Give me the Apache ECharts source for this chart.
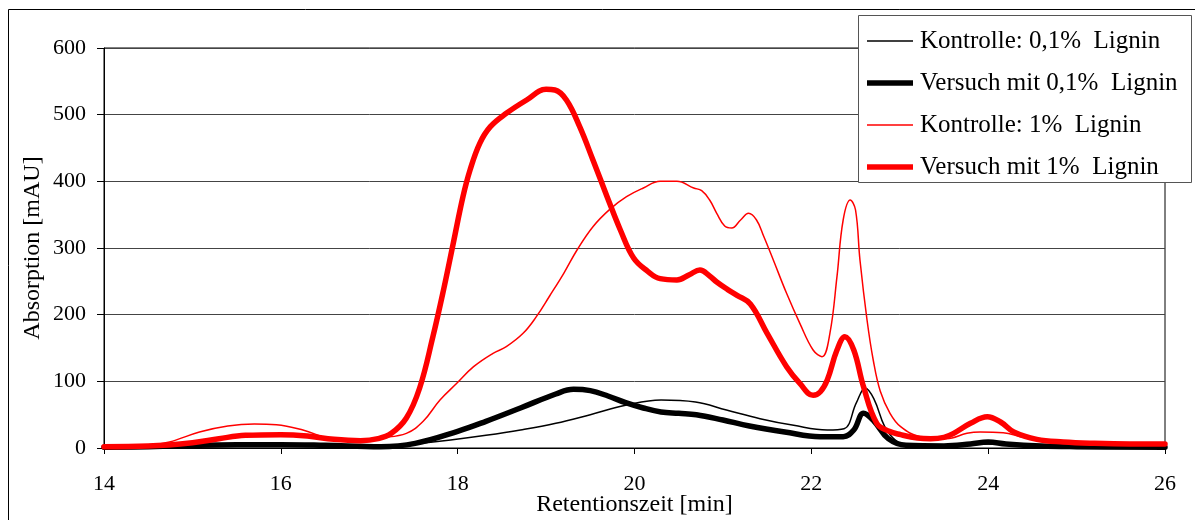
<!DOCTYPE html>
<html>
<head>
<meta charset="utf-8">
<title>Retentionszeit – Absorption</title>
<script src="https://cdn.jsdelivr.net/npm/echarts@6/dist/echarts.min.js"></script>
<style>
  html, body { margin: 0; padding: 0; background: #fff; overflow: hidden; }
  #chart { width: 1195px; height: 520px; }
</style>
</head>
<body>
<div id="chart"></div>
<script>
// Chromatogram traces: retention time [min] and absorption [mAU]
const timeKontrolle01 = [14.0, 14.5, 15.0, 15.5, 16.0, 16.5, 17.13, 17.5, 17.92, 18.32, 18.71, 19.11, 19.5, 19.9, 20.3, 20.69, 21.04, 21.42, 21.8, 22.18, 22.37, 22.51, 22.61, 22.71, 22.83, 22.95, 23.1, 23.5, 24.0, 24.5, 25.0, 26.0];
const absKontrolle01  = [1, 2, 3, 3, 3, 2, 2, 6, 12, 19, 27, 37, 50, 64, 72, 69, 57, 44, 34, 27, 29, 68, 90, 73, 32, 12, 4, 3, 6, 3, 2, 1];

const timeVersuch01 = [14.0, 14.5, 15.0, 15.5, 16.0, 16.5, 17.13, 17.52, 18.0, 18.32, 18.71, 19.11, 19.31, 19.5, 19.7, 19.9, 20.1, 20.3, 20.5, 20.7, 21.0, 21.3, 21.7, 22.1, 22.36, 22.48, 22.59, 22.71, 22.87, 23.07, 23.5, 23.8, 24.0, 24.2, 24.6, 25.0, 26.0];
const absVersuch01  = [1, 2, 4, 5, 5, 4, 2, 7, 25, 40, 60, 81, 88, 86, 78, 68, 60, 54, 52, 50, 42, 33, 24, 17, 17, 27, 52, 40, 14, 4, 3, 6, 9, 6, 3, 2, 1];

const timeKontrolle1 = [14.0, 14.5, 14.74, 15.08, 15.4, 15.7, 15.95, 16.25, 16.55, 16.86, 17.12, 17.42, 17.61, 17.8, 17.99, 18.18, 18.4, 18.55, 18.74, 18.89, 19.04, 19.2, 19.35, 19.53, 19.72, 19.91, 20.1, 20.29, 20.48, 20.67, 20.76, 20.85, 20.93, 21.02, 21.1, 21.2, 21.29, 21.38, 21.46, 21.57, 21.72, 21.87, 22.02, 22.12, 22.21, 22.29, 22.36, 22.44, 22.5, 22.55, 22.63, 22.7, 22.78, 22.89, 23.01, 23.23, 23.53, 23.76, 23.91, 24.17, 24.4, 24.67, 25.04, 25.5, 26.0];
const absKontrolle1  = [2, 4, 9, 24, 33, 36, 35, 27, 14, 10, 15, 22, 40, 72, 97, 122, 142, 152, 172, 197, 228, 262, 297, 332, 358, 377, 390, 400, 400, 390, 386, 372, 352, 333, 330, 342, 352, 342, 318, 282, 232, 187, 147, 137, 172, 257, 342, 372, 357, 282, 192, 132, 85, 52, 32, 17, 14, 22, 24, 23, 16, 12, 8, 7, 6];

const timeVersuch1 = [14.0, 14.5, 15.0, 15.3, 15.6, 16.0, 16.3, 16.6, 16.9, 17.1, 17.25, 17.42, 17.57, 17.72, 17.84, 17.95, 18.06, 18.14, 18.25, 18.37, 18.55, 18.78, 19.0, 19.1, 19.23, 19.38, 19.53, 19.69, 19.84, 19.99, 20.15, 20.29, 20.48, 20.62, 20.74, 20.85, 20.93, 21.05, 21.16, 21.31, 21.5, 21.72, 21.87, 22.02, 22.1, 22.18, 22.29, 22.38, 22.48, 22.59, 22.74, 22.88, 23.01, 23.2, 23.35, 23.5, 23.61, 23.8, 23.99, 24.14, 24.29, 24.55, 24.85, 25.19, 25.6, 26.0];
const absVersuch1  = [2, 3, 8, 14, 19, 20, 18, 13, 11, 14, 22, 45, 90, 167, 237, 307, 377, 417, 457, 482, 502, 522, 538, 537, 522, 482, 432, 377, 327, 285, 265, 254, 252, 260, 267, 258, 249, 238, 229, 216, 172, 122, 97, 79, 84, 102, 147, 167, 147, 92, 37, 25, 20, 15, 14, 16, 22, 37, 47, 39, 24, 13, 9, 7, 6, 6];

const seriesNames = ['Kontrolle: 0,1%  Lignin', 'Versuch mit 0,1%  Lignin', 'Kontrolle: 1%  Lignin', 'Versuch mit 1%  Lignin'];
const xTicks = { min: 14, max: 26, step: 2 };
const yTicks = { min: 0, max: 600, step: 100 };

const FONT = '"Liberation Serif", "Times New Roman", serif';
const THIN = 1.5;
const THICK = 5.5;

// legend keys: a flat bar as wide as the key, as thick as the trace
function keyIcon(thickness) {
  return 'path://M0,0h46v' + thickness + 'h-46z';
}

function pairs(times, values) {
  return times.map((t, i) => [t, values[i]]);
}

function trace(name, times, values, color, width) {
  return {
    name: name,
    type: 'line',
    data: pairs(times, values),
    smooth: 0.4,
    symbol: 'none',
    lineStyle: { color: color, width: width, join: 'round', cap: 'round' },
    itemStyle: { color: color },
    emphasis: { disabled: true }
  };
}

const chart = echarts.init(document.getElementById('chart'), null, { renderer: 'canvas', width: 1195, height: 520 });

chart.setOption({
  animation: false,
  backgroundColor: '#fff',
  textStyle: { fontFamily: FONT },
  grid: {
    left: 104, right: 30, top: 48, bottom: 72,
    outerBoundsMode: 'none',
    containLabel: false,
    show: true, borderColor: '#000', borderWidth: 1, backgroundColor: 'transparent'
  },
  graphic: [
    // outer chart frame
    { type: 'rect', z: 1, silent: true,
      shape: { x: 8.5, y: 9.5, width: 1210, height: 560 },
      style: { fill: 'none', stroke: '#000', lineWidth: 1 } },
    // legend frame
    { type: 'rect', z: 3, silent: true,
      shape: { x: 858.5, y: 15.5, width: 333, height: 167 },
      style: { fill: '#fff', stroke: '#555', lineWidth: 1 } }
  ],
  legend: {
    orient: 'vertical',
    left: 867, top: 27,
    padding: 0,
    itemWidth: 46, itemHeight: 14, itemGap: 14,
    symbolKeepAspect: true,
    selectedMode: false,
    z: 5,
    textStyle: { fontFamily: FONT, fontSize: 25, color: '#000', lineHeight: 28, padding: [0, 0, 0, 2] },
    data: [
      { name: seriesNames[0], icon: keyIcon(THIN), itemStyle: { color: '#000000' } },
      { name: seriesNames[1], icon: keyIcon(THICK), itemStyle: { color: '#000000' } },
      { name: seriesNames[2], icon: keyIcon(THIN), itemStyle: { color: '#ff0000' } },
      { name: seriesNames[3], icon: keyIcon(THICK), itemStyle: { color: '#ff0000' } }
    ]
  },
  xAxis: {
    type: 'value',
    min: xTicks.min, max: xTicks.max, interval: xTicks.step,
    name: 'Retentionszeit [min]',
    nameLocation: 'middle', nameGap: 45,
    nameMoveOverlap: false,
    nameTextStyle: { fontFamily: FONT, fontSize: 24, color: '#000' },
    axisLine: { show: true, lineStyle: { color: '#000', width: 1 } },
    axisTick: { show: true, length: 6, lineStyle: { color: '#000' } },
    axisLabel: { fontFamily: FONT, fontSize: 22, color: '#000', margin: 25 },
    splitLine: { show: false }
  },
  yAxis: {
    type: 'value',
    min: yTicks.min, max: yTicks.max, interval: yTicks.step,
    name: 'Absorption [mAU]',
    nameLocation: 'middle', nameGap: 59, nameRotate: 90,
    nameMoveOverlap: false,
    nameTextStyle: { fontFamily: FONT, fontSize: 24, color: '#000' },
    axisLine: { show: true, lineStyle: { color: '#000', width: 1 } },
    axisTick: { show: true, length: 7, lineStyle: { color: '#000' } },
    axisLabel: { fontFamily: FONT, fontSize: 22, color: '#000', margin: 18 },
    splitLine: { show: true, lineStyle: { color: '#444', width: 1 } }
  },
  series: [
    trace(seriesNames[0], timeKontrolle01, absKontrolle01, '#000000', THIN),
    trace(seriesNames[1], timeVersuch01, absVersuch01, '#000000', THICK),
    trace(seriesNames[2], timeKontrolle1, absKontrolle1, '#ff0000', THIN),
    trace(seriesNames[3], timeVersuch1, absVersuch1, '#ff0000', THICK)
  ]
});
</script>
</body>
</html>
